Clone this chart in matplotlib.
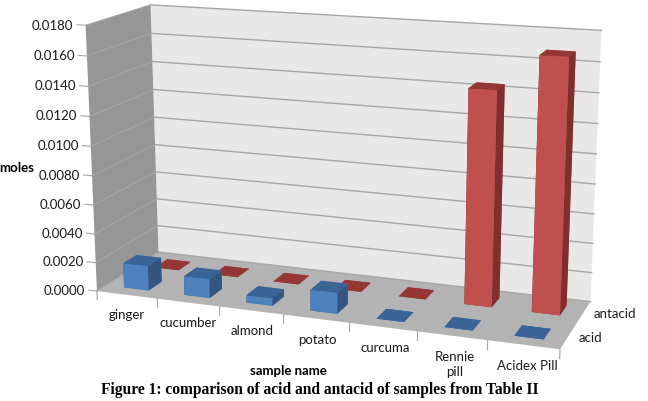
import numpy as np
import matplotlib
matplotlib.use('Agg')
import matplotlib.pyplot as plt
from mpl_toolkits.mplot3d import proj3d
from mpl_toolkits.mplot3d.art3d import Poly3DCollection

samples = ['ginger', 'cucumber', 'almond', 'potato', 'curcuma', 'Rennie\npill', 'Acidex Pill']
series = ['acid', 'antacid']
acid = [0.0017, 0.0013, 0.0005, 0.0014, 0.0, 0.0, 0.0]
antacid = [0.0, 0.0, 0.0, 0.0, 0.0, 0.0144, 0.0168]
ticks = [0.0, 0.002, 0.004, 0.006, 0.008, 0.010, 0.012, 0.014, 0.016, 0.018]

W, H = 648, 401
plt.rcParams['font.family'] = ['Lato', 'DejaVu Sans']
fig = plt.figure(figsize=(W / 100, H / 100), dpi=100)
ax = fig.add_subplot(projection='3d', computed_zorder=False)
ax.set_xlim(0, 7)
ax.set_ylim(0, 2)
ax.set_zlim(0, 0.018)

# camera fitted to the corners of the box in the reference
ax.set_box_aspect((1, 0.291, 0.571))
ax.view_init(14.477, -69.812, 0.094)
ax.set_proj_type('persp', focal_length=0.521)
s, tx, ty = 3025.3, 340.9, 236.0
vl = ax.viewLim
ax.set_position([(tx + s * vl.x0) / W, (ty + s * vl.y0) / H, s * vl.width / W, s * vl.height / H])
ax.set_axis_off()
ax.patch.set_alpha(0)


def label(x, y, z, text, dx=0, dy=0, **kw):
    X, Y, _ = proj3d.proj_transform(x, y, z, ax.get_proj())
    ax.text2D(X + dx / s, Y - dy / s, text, transform=ax.transData, fontsize=9.5, color='#1a1a1a', **kw)


zmax = ticks[-1]
grid = '#A6A6A6'
ax.add_collection3d(Poly3DCollection([[(0, 2, 0), (7, 2, 0), (7, 2, zmax), (0, 2, zmax)]],
                                     facecolor='#E8E8E8', edgecolor='none', zorder=1))
ax.add_collection3d(Poly3DCollection([[(0, 0, 0), (0, 2, 0), (0, 2, zmax), (0, 0, zmax)]],
                                     facecolor='#969696', edgecolor='none', zorder=1))
ax.add_collection3d(Poly3DCollection([[(0, 0, 0), (7, 0, 0), (7, 2, 0), (0, 2, 0)]],
                                     facecolor='#B3B3B3', edgecolor='none', zorder=1))
for t in ticks:
    ax.plot([0, 7], [2, 2], [t, t], color=grid, lw=1, zorder=2)
    ax.plot([0, 0], [0, 2], [t, t], color=grid, lw=0.8, zorder=2)
    ax.plot([-0.14, 0], [0, 0], [t, t], color=grid, lw=0.8, zorder=2)
    label(-0.2, 0, t, '%.4f' % t, dy=1, ha='right', va='center')
for i in range(len(samples) + 1):
    ax.plot([i, i], [0, 0], [0, -0.0006], color=grid, lw=0.8, zorder=2)
for i, name in enumerate(samples):
    label(i + 0.5, -0.25, 0, name, dx=8, dy=9, ha='center', va='top', linespacing=1.25)


def bars(vals, row, front, top, side, zo):
    n = len(vals)
    cols = []
    for k in range(n):
        cols += [top, top, front, front, side, side]
    ax.bar3d(np.arange(n) + 0.30, np.full(n, row + 0.285), np.zeros(n), 0.41, 0.43, vals,
             color=cols, shade=False, edgecolor='none', zorder=zo)


bars(antacid, 1, '#C0504D', '#943634', '#7F2F2D', 3)
bars(acid, 0, '#4F81BD', '#3A6396', '#335580', 4)

label(7.15, 1.5, 0, series[1], ha='left', va='center')
label(7.15, 0.5, 0, series[0], ha='left', va='center')
fig.text(17 / W, 1 - 168 / H, 'moles', ha='center', va='center', fontsize=9.5, fontweight='bold')
fig.text(288.5 / W, 1 - 371 / H, 'sample name', ha='center', va='center', fontsize=9.5, fontweight='bold')
fig.text(319.5 / W, 1 - 390 / H, 'Figure 1: comparison of acid and antacid of samples from Table II',
         ha='center', va='center', fontsize=11.2, fontweight='bold', family='Liberation Serif')
fig.savefig('out.png', dpi=100)
